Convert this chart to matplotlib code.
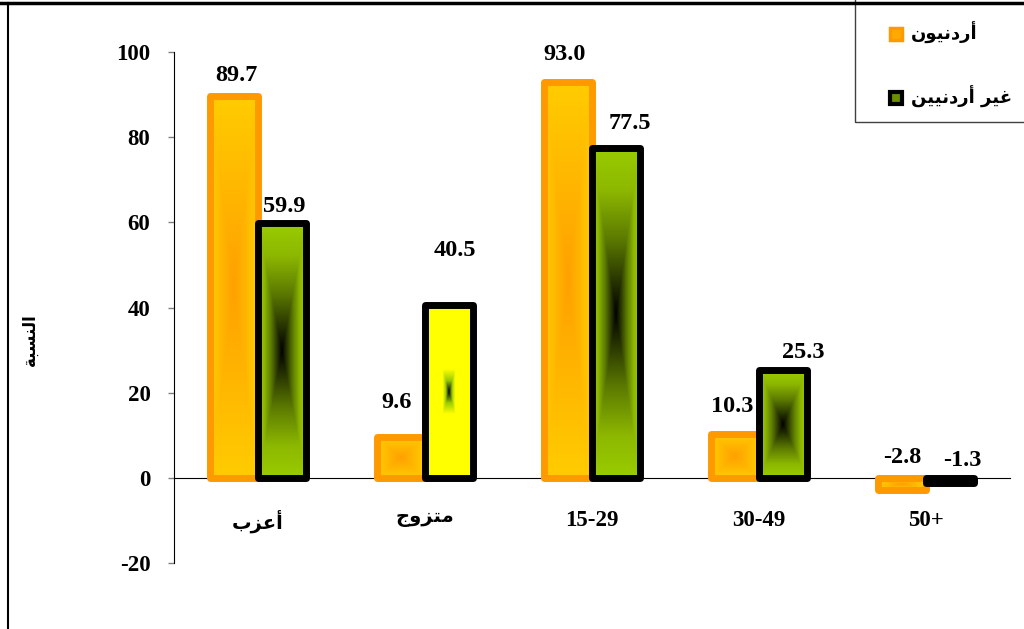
import numpy as np
import matplotlib
matplotlib.use('Agg')
import matplotlib.pyplot as plt
from matplotlib.lines import Line2D
from matplotlib.patches import Rectangle
from matplotlib.colors import to_rgb

# data
categories = ['أعزب', 'متزوج', '15-29', '30-49', '50+']
series_names = ['أردنيون', 'غير أردنيين']
jordanian = [89.7, 9.6, 93.0, 10.3, -2.8]
non_jordanian = [59.9, 40.5, 77.5, 25.3, -1.3]
y_ticks = [-20, 0, 20, 40, 60, 80, 100]
y_label = 'النسبة'

# matplotlib has no arabic shaping, so pick the presentation forms by hand
FORMS = {
    'ا': (0xFE8D, 0xFE8E, None, None),
    'أ': (0xFE83, 0xFE84, None, None),
    'ب': (0xFE8F, 0xFE90, 0xFE91, 0xFE92),
    'ة': (0xFE93, 0xFE94, None, None),
    'ت': (0xFE95, 0xFE96, 0xFE97, 0xFE98),
    'ج': (0xFE9D, 0xFE9E, 0xFE9F, 0xFEA0),
    'د': (0xFEA9, 0xFEAA, None, None),
    'ر': (0xFEAD, 0xFEAE, None, None),
    'ز': (0xFEAF, 0xFEB0, None, None),
    'س': (0xFEB1, 0xFEB2, 0xFEB3, 0xFEB4),
    'ع': (0xFEC9, 0xFECA, 0xFECB, 0xFECC),
    'غ': (0xFECD, 0xFECE, 0xFECF, 0xFED0),
    'ل': (0xFEDD, 0xFEDE, 0xFEDF, 0xFEE0),
    'م': (0xFEE1, 0xFEE2, 0xFEE3, 0xFEE4),
    'ن': (0xFEE5, 0xFEE6, 0xFEE7, 0xFEE8),
    'و': (0xFEED, 0xFEEE, None, None),
    'ي': (0xFEF1, 0xFEF2, 0xFEF3, 0xFEF4),
}


def shape(s):
    if not any(c in FORMS for c in s):
        return s
    out = []
    for i, c in enumerate(s):
        if c not in FORMS:
            out.append(c)
            continue
        prev = s[i - 1] if i > 0 else ''
        nxt = s[i + 1] if i + 1 < len(s) else ''
        jp = prev in FORMS and FORMS[prev][2] is not None
        jn = nxt in FORMS and FORMS[c][2] is not None
        iso, fin, ini, med = FORMS[c]
        if jp and jn:
            code = med
        elif jp:
            code = fin
        elif jn:
            code = ini
        else:
            code = iso
        out.append(chr(code))
    return ''.join(reversed(out))


def gradient(stops, n=200):
    # "from center" rectangular gradient
    u = np.linspace(-1, 1, n)
    t = np.maximum(np.abs(u)[None, :], np.abs(u)[:, None])
    pos = [s[0] for s in stops]
    cols = np.array([to_rgb(s[1]) for s in stops])
    return np.stack([np.interp(t, pos, cols[:, k]) for k in range(3)], axis=-1)


plt.rcParams['font.family'] = ['Liberation Serif', 'DejaVu Sans']
plt.rcParams['font.weight'] = 'bold'

fig = plt.figure(figsize=(10.24, 6.29), dpi=100)
ax = fig.add_axes([0.170, 0.105, 0.816, 0.812])

# move the x axis to zero first (this resets the ticks)
for s in ['top', 'right']:
    ax.spines[s].set_visible(False)
ax.spines['bottom'].set_position(('data', 0))
ax.spines['bottom'].set_zorder(1)

x = np.arange(len(categories))
w = 0.287
bars_j = ax.bar(x - w / 2, jordanian, w, facecolor='none', edgecolor='#FF9900',
                linewidth=5, joinstyle='round', zorder=3)
bars_n = ax.bar(x + w / 2, non_jordanian, w, facecolor='none', edgecolor='black',
                linewidth=5, joinstyle='round', zorder=4)

orange_stops = [(0, '#FFA000'), (0.6, '#FFBB00'), (1, '#FFCC00')]
green_stops = [(0, '#000000'), (0.45, '#5C7A00'), (0.75, '#8DB800'), (1, '#99CC00')]
yellow_stops = [(0, '#000000'), (0.13, '#99CC00'), (0.26, '#FFFF00'), (1, '#FFFF00')]

for bars, z, styles in [(bars_j, 2, [orange_stops] * 5),
                        (bars_n, 3.5, [green_stops, yellow_stops] + [green_stops] * 3)]:
    for p, st in zip(bars, styles):
        x0, y0, ww, hh = p.get_x(), p.get_y(), p.get_width(), p.get_height()
        im = ax.imshow(gradient(st), extent=[x0, x0 + ww, min(y0, y0 + hh), max(y0, y0 + hh)],
                       aspect='auto', interpolation='bilinear', zorder=z)
        im.set_clip_path(p)

# value labels, nudged like the original (pixels)
nudge = [[(3, 21), (-4, 34), (-3, 28), (-3, 27), (0, 20)],
         [(3, 16), (6, 55), (14, 24), (20, 18), (12, 17)]]
for k, (bars, vals) in enumerate([(bars_j, jordanian), (bars_n, non_jordanian)]):
    for p, v, (dx, dy) in zip(bars, vals, nudge[k]):
        ax.annotate(f'{v:.1f}', (p.get_x() + p.get_width() / 2, max(v, 0)),
                    xytext=(dx * 0.72, dy * 0.72), textcoords='offset points',
                    ha='center', va='center', fontsize=17.5, fontweight='bold', zorder=6)

ax.set_xlim(-0.5, 4.5)
ax.set_ylim(-20, 100)
ax.set_yticks(y_ticks)
ax.set_yticklabels([str(t) for t in y_ticks], fontsize=16.5, fontweight='bold')
ax.set_xticks(x)
ax.set_xticklabels([shape(c) for c in categories], fontsize=16.5, fontweight='bold')
for lab, c in zip(ax.get_xticklabels(), categories):
    if shape(c) != c:
        lab.set_fontsize(14)

ax.tick_params(axis='x', length=0, pad=23)
ax.tick_params(axis='y', direction='out', length=4, width=1, color='#808080', pad=13)

fig.text(30 / 1024, 1 - 340 / 629, shape(y_label), rotation=90, ha='center', va='center',
         fontsize=12, fontweight='bold', family='DejaVu Sans')

# legend
handles = [Line2D([], [], ls='none', marker='s', markersize=9, mfc='#FFAA00', mec='#FF9900', mew=2.5),
           Line2D([], [], ls='none', marker='s', markersize=9, mfc='#6B8E00', mec='black', mew=3)]
fig.legend(handles, [shape(s) for s in series_names], loc='upper left',
           bbox_to_anchor=(873 / 1024, 1 - 6 / 629), frameon=False,
           prop=dict(family='DejaVu Sans', weight='bold', size=13),
           labelspacing=2.3, handlelength=0.8, handletextpad=0.4)
fig.add_artist(Rectangle((855 / 1024, 1 - 122 / 629), 0.3, 0.3, transform=fig.transFigure,
                         fill=False, ec='#404040', lw=1))

# outer chart-area border (cropped)
fig.add_artist(Line2D([0, 1], [1 - 3 / 629] * 2, transform=fig.transFigure, color='black', lw=2.5))
fig.add_artist(Line2D([8 / 1024] * 2, [0, 1 - 3 / 629], transform=fig.transFigure, color='black', lw=1.5))

fig.savefig('out.png', dpi=100)
